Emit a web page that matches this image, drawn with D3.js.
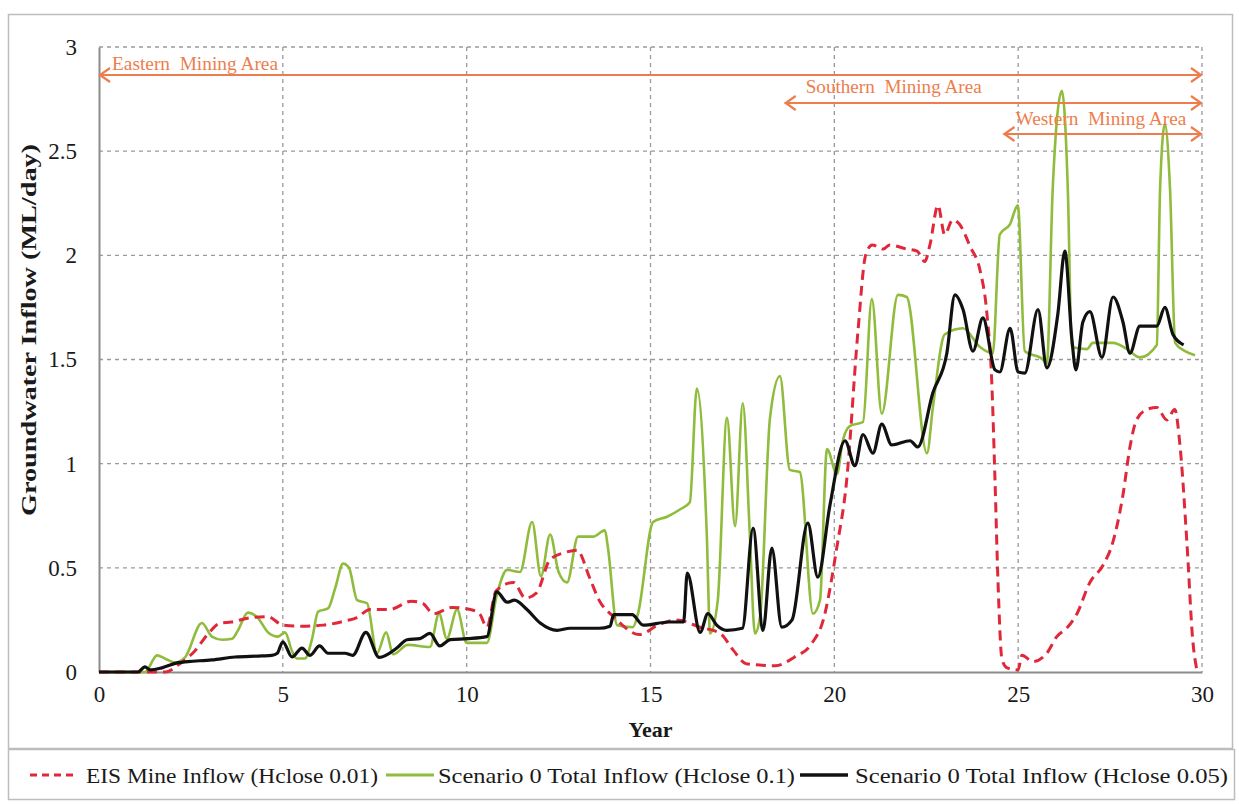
<!DOCTYPE html>
<html>
<head>
<meta charset="utf-8">
<script src="https://cdn.jsdelivr.net/npm/d3@7"></script>
<style>
  body { margin: 0; background: #fff; }
  svg { display: block; }
  text { font-family: "Liberation Serif", "DejaVu Serif", serif; }
</style>
</head>
<body>
<div id="chart"></div>
<script>
// tick values
const xTicks = [0, 5, 10, 15, 20, 25, 30];
const yTicks = [0, 0.5, 1, 1.5, 2, 2.5, 3];

// [year, ML/day]
const eisInflow = [
  [0,0],[1.8,0],[2.2,0.04],[2.6,0.1],[3.0,0.19],[3.3,0.235],[3.6,0.24],[4.1,0.26],[4.6,0.265],
  [5.0,0.225],[5.5,0.22],[6.1,0.225],[6.7,0.245],[7.0,0.26],[7.37,0.3],[7.9,0.3],[8.5,0.34],
  [8.8,0.33],[9.1,0.28],[9.6,0.31],[10.1,0.3],[10.35,0.28],[10.55,0.215],[10.8,0.39],[11.27,0.43],
  [11.6,0.355],[11.9,0.38],[12.27,0.54],[12.7,0.575],[13.0,0.585],[13.35,0.45],[13.6,0.345],
  [14.0,0.265],[14.7,0.18],[15.2,0.225],[15.7,0.25],[16.35,0.215],[16.9,0.185],[17.25,0.105],
  [17.6,0.04],[18.4,0.03],[18.9,0.07],[19.4,0.14],[19.7,0.25],[20.07,0.6],[20.33,0.91],
  [20.64,1.63],[20.85,2.0],[21.03,2.05],[21.33,2.03],[21.5,2.05],[21.97,2.03],[22.25,2.02],
  [22.46,1.97],[22.6,2.05],[22.82,2.24],[23.0,2.1],[23.22,2.17],[23.4,2.15],[23.7,2.04],
  [23.96,1.93],[24.15,1.72],[24.28,1.4],[24.37,0.92],[24.45,0.44],[24.56,0.06],[24.7,0.02],
  [25.0,0.01],[25.1,0.08],[25.4,0.05],[25.78,0.09],[26.05,0.17],[26.32,0.21],[26.6,0.28],
  [26.95,0.43],[27.3,0.51],[27.57,0.62],[27.85,0.85],[28.04,1.08],[28.22,1.21],[28.5,1.26],
  [28.77,1.27],[29.04,1.21],[29.26,1.26],[29.4,1.09],[29.59,0.62],[29.75,0.15],[29.86,0.01]
];

const totalHclose01 = [
  [0,0],[1.25,0],[1.58,0.08],[1.79,0.065],[2.07,0.045],[2.34,0.07],[2.8,0.235],[3.07,0.17],
  [3.35,0.155],[3.62,0.16],[3.78,0.2],[4.05,0.285],[4.32,0.26],[4.6,0.19],[4.87,0.17],[5.06,0.19],
  [5.25,0.1],[5.38,0.065],[5.6,0.065],[5.79,0.155],[5.96,0.29],[6.23,0.305],[6.42,0.4],[6.64,0.52],
  [6.8,0.5],[7.02,0.345],[7.29,0.33],[7.56,0.09],[7.81,0.19],[8.0,0.085],[8.4,0.13],[9.0,0.12],
  [9.25,0.28],[9.46,0.16],[9.74,0.3],[10.0,0.14],[10.55,0.14],[10.82,0.37],[11.1,0.49],[11.45,0.48],
  [11.78,0.72],[12.02,0.46],[12.27,0.66],[12.5,0.48],[12.73,0.43],[13.03,0.65],[13.44,0.65],
  [13.76,0.68],[13.84,0.6],[14.09,0.225],[14.52,0.215],[14.66,0.28],[15.07,0.72],[15.45,0.745],
  [15.8,0.78],[16.07,0.815],[16.26,1.36],[16.53,0.665],[16.62,0.185],[16.83,0.345],[17.08,1.22],
  [17.3,0.7],[17.51,1.29],[17.7,0.665],[17.84,0.185],[17.98,0.265],[18.25,1.22],[18.52,1.42],
  [18.79,0.97],[19.06,0.96],[19.42,0.28],[19.61,0.345],[19.8,1.07],[20.07,0.95],[20.23,1.11],
  [20.42,1.18],[20.78,1.2],[21.02,1.79],[21.29,1.24],[21.73,1.81],[21.97,1.8],[22.52,1.05],
  [22.68,1.27],[23.0,1.62],[23.5,1.65],[23.96,1.56],[24.31,1.53],[24.5,2.1],[24.78,2.15],
  [24.99,2.24],[25.18,1.54],[25.67,1.5],[25.78,1.48],[25.94,2.32],[26.19,2.79],[26.35,2.32],
  [26.46,1.56],[26.87,1.55],[27.03,1.58],[27.58,1.58],[27.96,1.55],[28.31,1.51],[28.77,1.57],
  [28.86,2.32],[28.99,2.63],[29.13,2.32],[29.27,1.58],[29.54,1.54],[29.81,1.52]
];

const totalHclose005 = [
  [0,0],[1.06,0],[1.25,0.025],[1.39,0.01],[1.71,0.02],[2.15,0.045],[2.42,0.05],[3.07,0.058],
  [3.7,0.072],[4.43,0.077],[4.7,0.08],[4.85,0.09],[5.0,0.145],[5.25,0.072],[5.52,0.115],[5.74,0.08],
  [6.0,0.125],[6.23,0.09],[6.69,0.09],[6.9,0.08],[7.26,0.19],[7.62,0.07],[8.1,0.115],[8.38,0.155],
  [8.73,0.16],[9.0,0.185],[9.27,0.125],[9.55,0.155],[10.0,0.16],[10.55,0.17],[10.82,0.385],
  [11.1,0.335],[11.3,0.345],[11.64,0.3],[12.0,0.235],[12.46,0.2],[12.81,0.21],[13.6,0.21],
  [13.9,0.22],[14.0,0.275],[14.5,0.275],[14.8,0.225],[15.5,0.24],[15.9,0.24],[16.0,0.475],
  [16.35,0.19],[16.56,0.28],[16.8,0.225],[17.07,0.2],[17.5,0.21],[17.79,0.69],[18.06,0.2],
  [18.3,0.595],[18.57,0.215],[18.85,0.25],[19.28,0.715],[19.55,0.455],[19.88,0.8],[20.29,1.11],
  [20.56,0.99],[20.78,1.14],[21.05,1.05],[21.29,1.19],[21.56,1.09],[22.06,1.11],[22.27,1.08],
  [22.68,1.34],[23.06,1.53],[23.28,1.81],[23.5,1.74],[23.77,1.54],[24.04,1.7],[24.37,1.45],
  [24.5,1.44],[24.78,1.65],[25.0,1.44],[25.18,1.435],[25.54,1.74],[25.78,1.46],[26.08,1.72],
  [26.27,2.02],[26.46,1.6],[26.57,1.45],[26.76,1.68],[26.95,1.73],[27.28,1.51],[27.58,1.8],
  [27.85,1.68],[28.04,1.53],[28.31,1.66],[28.77,1.66],[28.99,1.75],[29.21,1.62],[29.5,1.57]
];

const seriesNames = [
  'EIS Mine Inflow (Hclose 0.01)',
  'Scenario 0 Total Inflow (Hclose 0.1)',
  'Scenario 0 Total Inflow (Hclose 0.05)'
];

const areaNames = ['Eastern  Mining Area', 'Southern  Mining Area', 'Western  Mining Area'];
const areaStart = [0, 18.65, 24.6];
const areaEnd = [30, 30, 30];

const W = 1239, H = 804;
const margin = { top: 47, right: 37, bottom: 132, left: 99 };
const width = W - margin.left - margin.right;
const height = H - margin.top - margin.bottom;

const svg = d3.select('#chart')
  .append('svg')
  .attr('width', W)
  .attr('height', H);

// outer frame
svg.append('rect')
  .attr('x', 8.5).attr('y', 14.5)
  .attr('width', 1224).attr('height', 734)
  .attr('fill', 'none').attr('stroke', '#bdbdbd').attr('stroke-width', 1.5);

const container = svg.append('g')
  .attr('transform', `translate(${margin.left},${margin.top})`);

const xScale = d3.scaleLinear().domain([0, 30]).range([0, width]);
const yScale = d3.scaleLinear().domain([0, 3]).range([height, 0]);

// grid
container.append('g')
  .selectAll('line')
  .data(xTicks.filter(d => d > 0))
  .enter()
  .append('line')
  .attr('x1', d => xScale(d)).attr('x2', d => xScale(d))
  .attr('y1', 0).attr('y2', height)
  .attr('stroke', '#9a9a9a')
  .attr('stroke-width', 1.3)
  .attr('stroke-dasharray', '4,4');

container.append('g')
  .selectAll('line')
  .data(yTicks.filter(d => d > 0))
  .enter()
  .append('line')
  .attr('x1', 0).attr('x2', width)
  .attr('y1', d => yScale(d)).attr('y2', d => yScale(d))
  .attr('stroke', '#9a9a9a')
  .attr('stroke-width', 1.3)
  .attr('stroke-dasharray', '4,4');

// axes
const xAxis = d3.axisBottom(xScale).tickValues(xTicks).tickSize(0).tickPadding(14);
const yAxis = d3.axisLeft(yScale).tickValues(yTicks).tickSize(0).tickPadding(22)
  .tickFormat(d3.format('~g'));

const gx = container.append('g')
  .attr('transform', `translate(0,${height})`)
  .call(xAxis);
const gy = container.append('g').call(yAxis);

[gx, gy].forEach(g => {
  g.select('.domain').attr('stroke', '#8c8c8c').attr('stroke-width', 2);
  g.selectAll('text')
    .attr('fill', '#1a1a1a')
    .style('font-family', '"Liberation Serif", serif')
    .style('font-size', '23px');
});

// axis titles
container.append('text')
  .attr('x', width / 2)
  .attr('y', height + 65)
  .attr('text-anchor', 'middle')
  .attr('fill', '#1a1a1a')
  .style('font-size', '22px')
  .style('font-weight', 'bold')
  .text('Year');

container.append('text')
  .attr('transform', 'rotate(-90)')
  .attr('x', -(330 - margin.top))
  .attr('y', -63)
  .attr('text-anchor', 'middle')
  .attr('fill', '#1a1a1a')
  .attr('textLength', 372)
  .attr('lengthAdjust', 'spacingAndGlyphs')
  .style('font-size', '22px')
  .style('font-weight', 'bold')
  .text('Groundwater Inflow (ML/day)');

// series
const line = d3.line()
  .x(d => xScale(d[0]))
  .y(d => yScale(d[1]))
  .curve(d3.curveMonotoneX);

container.append('path')
  .datum(totalHclose01)
  .attr('d', line)
  .attr('fill', 'none')
  .attr('stroke', '#8fbc3c')
  .attr('stroke-width', 2.6);

container.append('path')
  .datum(eisInflow)
  .attr('d', line)
  .attr('fill', 'none')
  .attr('stroke', '#e0283a')
  .attr('stroke-width', 3)
  .attr('stroke-dasharray', '10,6');

container.append('path')
  .datum(totalHclose005)
  .attr('d', line)
  .attr('fill', 'none')
  .attr('stroke', '#111')
  .attr('stroke-width', 3.2);

// mining area arrows
const arrowY = [75, 103, 134].map(v => v - margin.top);
const labelDx = [13, 21, 12];
const labelGap = [5, 10, 9];
const labelLen = [166, 176, 171];
const orange = '#ee7d4d';

areaNames.forEach((name, i) => {
  const x0 = xScale(areaStart[i]), x1 = xScale(areaEnd[i]), y = arrowY[i];
  const g = container.append('g');
  g.append('line')
    .attr('x1', x0).attr('x2', x1).attr('y1', y).attr('y2', y)
    .attr('stroke', orange).attr('stroke-width', 2.2);
  g.append('path')
    .attr('d', `M${x0 + 11},${y - 7}L${x0 + 1},${y}L${x0 + 11},${y + 7}`
      + `M${x1 - 11},${y - 7}L${x1 - 1},${y}L${x1 - 11},${y + 7}`)
    .attr('fill', 'none').attr('stroke', orange).attr('stroke-width', 2.2);
  g.append('text')
    .attr('x', x0 + labelDx[i])
    .attr('y', y - labelGap[i])
    .attr('fill', orange)
    .attr('textLength', labelLen[i])
    .attr('lengthAdjust', 'spacingAndGlyphs')
    .style('font-size', '18px')
    .style('white-space', 'pre')
    .text(name);
});

// legend
const legend = svg.append('g');
legend.append('rect')
  .attr('x', 8.5).attr('y', 749.5)
  .attr('width', 1226).attr('height', 50)
  .attr('fill', '#fff').attr('stroke', '#bdbdbd').attr('stroke-width', 1.5);

const legendItems = [
  { name: seriesNames[0], color: '#e0283a', dash: '7,5', w: 3, x: 30, tx: 86, len: 292 },
  { name: seriesNames[1], color: '#8fbc3c', dash: null, w: 3, x: 386, tx: 438, len: 357 },
  { name: seriesNames[2], color: '#111', dash: null, w: 3.5, x: 800, tx: 855, len: 373 }
];

legendItems.forEach(d => {
  legend.append('line')
    .attr('x1', d.x).attr('x2', d.x + 48)
    .attr('y1', 775).attr('y2', 775)
    .attr('stroke', d.color)
    .attr('stroke-width', d.w)
    .attr('stroke-dasharray', d.dash);
  legend.append('text')
    .attr('x', d.tx)
    .attr('y', 783)
    .attr('fill', '#1a1a1a')
    .attr('textLength', d.len)
    .attr('lengthAdjust', 'spacingAndGlyphs')
    .style('font-size', '22px')
    .text(d.name);
});
</script>
</body>
</html>
